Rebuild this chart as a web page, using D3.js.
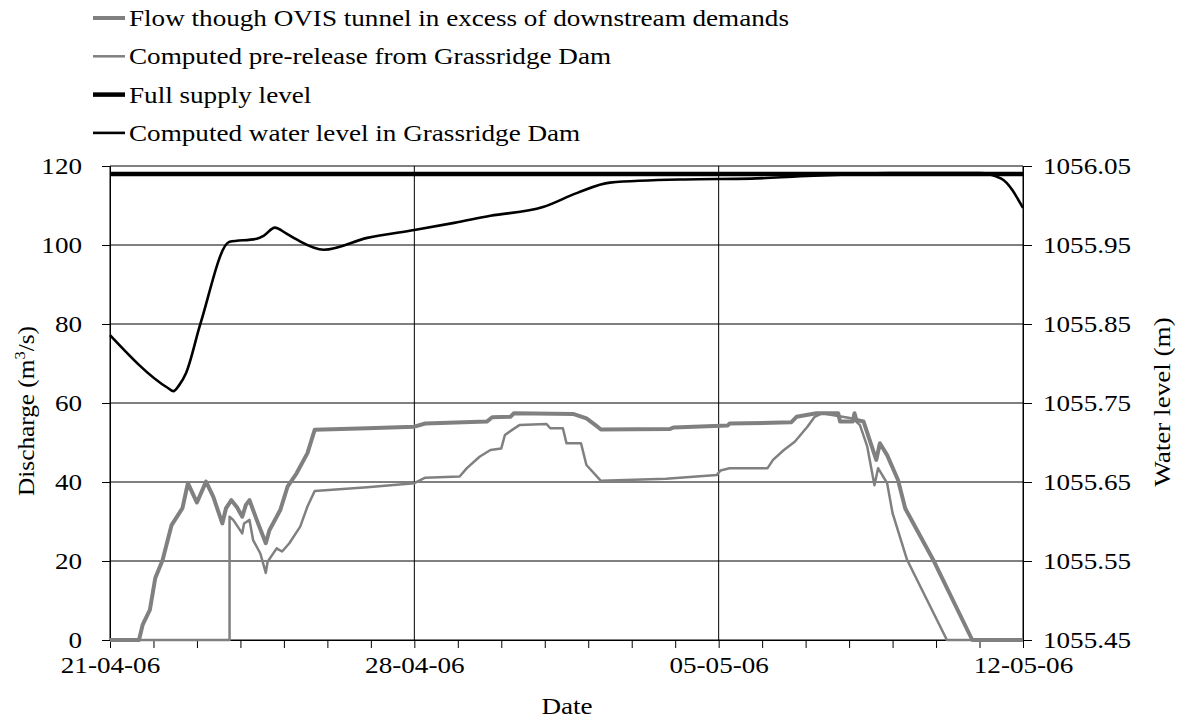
<!DOCTYPE html>
<html><head><meta charset="utf-8"><script src="https://cdn.jsdelivr.net/npm/d3@7"></script></head>
<body style="margin:0">
<svg width="1178" height="722" style="font-family: 'Liberation Serif', serif;"></svg>
<script>
// days since 21-04-06 00:00
var flowDays = [0, 0.65, 0.73, 0.92, 1.04, 1.19, 1.42, 1.65, 1.80, 2.01, 2.19, 2.38, 2.59, 2.67, 2.80, 2.90, 3.03, 3.11, 3.22, 3.38, 3.58, 3.68, 3.91, 4.07, 4.30, 4.53, 4.72, 5.91, 7.0, 7.25, 8.67, 8.78, 9.21, 9.28, 10.66, 10.97, 11.16, 11.28, 12.89, 12.96, 14.19, 14.27, 15.65, 15.80, 16.26, 16.76, 16.80, 17.07, 17.12, 17.18, 17.34, 17.45, 17.61, 17.72, 17.88, 18.11, 18.30, 18.95, 19.83, 21];
var flowValues = [0, 0, 3.8, 7.6, 15.7, 20.2, 29.1, 33.4, 39.7, 34.8, 40.1, 36.3, 29.5, 33.3, 35.4, 33.7, 31.2, 34.2, 35.4, 30.4, 24.5, 27.8, 32.9, 38.8, 42.2, 47.3, 53.2, 53.6, 54.0, 54.8, 55.3, 56.4, 56.5, 57.4, 57.2, 56.1, 54.4, 53.3, 53.4, 53.8, 54.3, 54.8, 55.1, 56.5, 57.4, 57.4, 55.3, 55.3, 57.4, 55.7, 55.3, 51.1, 45.6, 49.8, 46.8, 40.5, 33.3, 19.8, 0, 0];

var releaseDays = [0, 2.75, 2.75, 2.84, 3.03, 3.08, 3.21, 3.30, 3.45, 3.58, 3.64, 3.84, 3.95, 4.14, 4.37, 4.56, 4.72, 5.91, 7.0, 7.25, 8.06, 8.21, 8.52, 8.75, 8.98, 9.09, 9.24, 9.40, 10.05, 10.13, 10.40, 10.51, 10.82, 10.97, 11.28, 12.81, 13.96, 14.04, 14.27, 15.11, 15.27, 15.50, 15.77, 16.03, 16.22, 16.38, 17.07, 17.26, 17.42, 17.57, 17.68, 17.88, 17.99, 18.34, 19.26, 21];
var releaseValues = [0, 0, 31.2, 30.4, 27.0, 29.5, 30.4, 25.3, 21.9, 17.0, 19.8, 23.2, 22.4, 24.5, 28.7, 33.8, 37.7, 38.7, 39.7, 41.1, 41.4, 43.5, 46.4, 48.1, 48.5, 51.9, 53.2, 54.4, 54.7, 53.6, 53.6, 49.8, 49.8, 44.3, 40.3, 40.8, 41.8, 42.9, 43.5, 43.5, 45.6, 48.1, 50.2, 54.0, 56.5, 57.4, 56.1, 54.4, 49.0, 39.2, 43.5, 39.7, 32.1, 20.3, 0, 0];

var levelDays = [0, 1.35, 1.47, 1.6, 1.75, 2.07, 2.75, 3.38, 3.55, 3.81, 4.05, 4.30, 4.93, 5.9, 7.0, 7.9, 8.75, 9.97, 10.74, 11.51, 13.2, 14.73, 15.88, 17.3, 17.9, 20.0, 20.5, 21];
var levelValues = [1055.836, 1055.769, 1055.765, 1055.772, 1055.788, 1055.851, 1055.954, 1055.958, 1055.962, 1055.972, 1055.965, 1055.957, 1055.944, 1055.959, 1055.969, 1055.978, 1055.987, 1055.998, 1056.016, 1056.029, 1056.033, 1056.034, 1056.037, 1056.040, 1056.041, 1056.041, 1056.034, 1055.997];

var fullSupplyLevel = 1056.04;

var dischargeTicks = [0, 20, 40, 60, 80, 100, 120];
var levelTicks = [1055.45, 1055.55, 1055.65, 1055.75, 1055.85, 1055.95, 1056.05];
var weekOffsets = [0, 7, 14, 21];
var legendLabels = ["Flow though OVIS tunnel in excess of downstream demands",
                    "Computed pre-release from Grassridge Dam",
                    "Full supply level",
                    "Computed water level in Grassridge Dam"];

var textStyle = "font-family: 'Liberation Serif', serif !important; font-size: 23px; fill: #000;";
var stretch = 1.18; // the reference lettering is wider than tall

var start = new Date(2006, 3, 21);
function toDate(t) { return d3.timeHour.offset(start, Math.round(t * 24)); }

var svg = d3.select("svg");
var plotLeft = 110, plotRight = 1023, plotTop = 166, plotBottom = 640;

var x = d3.scaleTime()
    .domain([start, toDate(21)])
    .range([plotLeft, plotRight]);
var y = d3.scaleLinear().domain([0, 120]).range([plotBottom, plotTop]);
var y2 = d3.scaleLinear().domain([1055.45, 1056.05]).range([plotBottom, plotTop]);

var weekTicks = weekOffsets.map(toDate);
var dayTicks = d3.range(0, 22).map(toDate);

// horizontal grid
svg.append("g")
  .selectAll("line")
  .data(dischargeTicks)
  .enter().append("line")
    .attr("x1", plotLeft).attr("x2", plotRight)
    .attr("y1", function(d) { return y(d); })
    .attr("y2", function(d) { return y(d); })
    .attr("stroke", "#000").attr("stroke-width", 1);

// weekly vertical grid
svg.append("g")
  .selectAll("line")
  .data(weekTicks)
  .enter().append("line")
    .attr("x1", function(d) { return x(d); })
    .attr("x2", function(d) { return x(d); })
    .attr("y1", plotTop).attr("y2", plotBottom)
    .attr("stroke", "#000").attr("stroke-width", 1);

// axes
var leftAxis = svg.append("g")
    .attr("transform", "translate(" + plotLeft + ",0)")
    .call(d3.axisLeft(y).tickValues(dischargeTicks).tickSize(8).tickPadding(20).tickSizeOuter(0));
var rightAxis = svg.append("g")
    .attr("transform", "translate(" + plotRight + ",0)")
    .call(d3.axisRight(y2).tickValues(levelTicks).tickSize(9).tickSizeOuter(0).tickFormat(d3.format(".2f")).tickPadding(11));
var bottomAxis = svg.append("g")
    .attr("transform", "translate(0," + plotBottom + ")")
    .call(d3.axisBottom(x).tickValues(dayTicks).tickSize(8).tickSizeOuter(0).tickFormat(""));
bottomAxis.selectAll("text").remove();
var bottomLabels = svg.append("g")
    .attr("transform", "translate(0," + plotBottom + ")")
    .call(d3.axisBottom(x).tickValues(weekTicks).tickSize(0).tickPadding(17).tickFormat(d3.timeFormat("%d-%m-%y")));
bottomLabels.select(".domain").remove();

[leftAxis, rightAxis, bottomAxis, bottomLabels].forEach(function(g) {
  g.attr("font-family", "Liberation Serif").attr("font-size", 23);
  g.selectAll("text")
      .attr("style", textStyle)
      .attr("x", function() { return (+this.getAttribute("x") || 0) / stretch; })
      .attr("transform", "scale(" + stretch + ",1)");
  g.selectAll("line, path").attr("stroke", "#000");
});

// series
var flowLine = d3.line()
    .x(function(d) { return x(toDate(d[0])); })
    .y(function(d) { return y(d[1]); });
var levelLine = d3.line()
    .x(function(d) { return x(toDate(d[0])); })
    .y(function(d) { return y2(d[1]); })
    .curve(d3.curveMonotoneX);

svg.append("path")
    .datum([[0, fullSupplyLevel], [21, fullSupplyLevel]])
    .attr("d", levelLine)
    .attr("fill", "none").attr("stroke", "#000").attr("stroke-width", 4.5);

svg.append("path")
    .datum(d3.zip(levelDays, levelValues))
    .attr("d", levelLine)
    .attr("fill", "none").attr("stroke", "#000").attr("stroke-width", 2.6)
    .attr("stroke-linejoin", "round");

svg.append("path")
    .datum(d3.zip(releaseDays, releaseValues))
    .attr("d", flowLine)
    .attr("fill", "none").attr("stroke", "#808080").attr("stroke-width", 2.5)
    .attr("stroke-linejoin", "round");

svg.append("path")
    .datum(d3.zip(flowDays, flowValues))
    .attr("d", flowLine)
    .attr("fill", "none").attr("stroke", "#808080").attr("stroke-width", 4)
    .attr("stroke-linejoin", "round");

// axis titles
var yTitle = svg.append("text")
    .attr("transform", "translate(34,411) rotate(-90) scale(1.1,1)")
    .attr("text-anchor", "middle")
    .attr("style", textStyle);
yTitle.append("tspan").text("Discharge (m");
yTitle.append("tspan").attr("dy", -9).attr("style", "font-size: 15px").text("3");
yTitle.append("tspan").attr("dy", 9).text("/s)");

svg.append("text")
    .attr("transform", "translate(1170,402) rotate(-90) scale(" + stretch + ",1)")
    .attr("text-anchor", "middle")
    .attr("style", textStyle)
    .text("Water level (m)");

svg.append("text")
    .attr("transform", "translate(567,714) scale(" + stretch + ",1)")
    .attr("text-anchor", "middle")
    .attr("style", textStyle)
    .text("Date");

// legend
var legendStyles = [
  { color: "#808080", width: 4 },
  { color: "#808080", width: 2.5 },
  { color: "#000", width: 4.5 },
  { color: "#000", width: 2.6 }
];
var legend = svg.append("g")
  .selectAll("g")
  .data(legendLabels)
  .enter().append("g")
    .attr("transform", function(d, i) { return "translate(93," + (18 + i * 38.3) + ")"; });
legend.append("line")
    .attr("x1", 0).attr("x2", 32)
    .attr("stroke", function(d, i) { return legendStyles[i].color; })
    .attr("stroke-width", function(d, i) { return legendStyles[i].width; });
legend.append("text")
    .attr("transform", "translate(36,8) scale(" + stretch + ",1)")
    .attr("style", textStyle)
    .text(function(d) { return d; });
</script>
</body>
</html>
